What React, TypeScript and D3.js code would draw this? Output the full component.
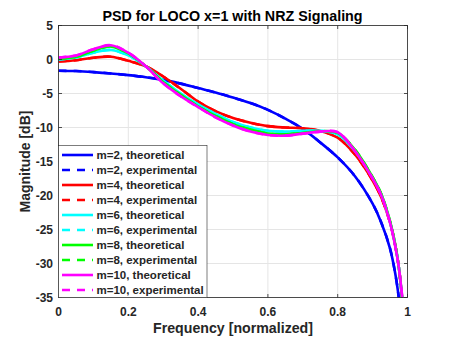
import React from "react";
import * as d3 from "d3";

const freq = [0, 0.05, 0.1, 0.15, 0.2, 0.25, 0.3, 0.35, 0.4, 0.45, 0.5, 0.55, 0.6, 0.65, 0.7, 0.75, 0.8, 0.85, 0.9, 0.925, 0.95, 0.965, 0.975, 0.985, 0.99];

const m2 = [-1.65, -1.7, -1.85, -2.05, -2.3, -2.6, -3.0, -3.55, -4.2, -4.85, -5.6, -6.4, -7.4, -8.7, -10.2, -12.2, -14.4, -17.2, -21.2, -24.0, -27.8, -31.5, -35, -40, -44];
const m4 = [-0.3, -0.1, 0.25, 0.4, -0.2, -1.0, -2.5, -4.3, -6.2, -7.6, -8.6, -9.3, -9.8, -10.0, -10.1, -10.5, -11.5, -14.0, -17.8, -20.3, -24.0, -27.3, -30.5, -35.5, -39];
const m6 = [0.0, 0.3, 1.0, 1.4, 0.6, -1.0, -3.1, -5.0, -6.6, -8.0, -9.2, -10.0, -10.5, -10.6, -10.5, -10.5, -11.0, -13.5, -17.4, -19.9, -23.9, -27.3, -30.5, -35.4, -38.6];
const m8 = [0.1, 0.4, 1.3, 1.9, 0.9, -1.0, -3.3, -5.2, -6.9, -8.3, -9.5, -10.3, -10.9, -11.0, -10.8, -10.55, -10.8, -13.3, -17.3, -19.8, -23.8, -27.3, -30.5, -35.3, -38.5];
const m10 = [0.3, 0.6, 1.5, 2.1, 1.0, -1.0, -3.5, -5.4, -7.0, -8.5, -9.7, -10.6, -11.1, -11.2, -10.9, -10.6, -10.7, -13.5, -17.5, -20.0, -24.0, -27.5, -30.5, -35, -38];

const seriesNames = ["m=2", "m=4", "m=6", "m=8", "m=10"];
const seriesColors = ["#0000ff", "#ff0000", "#00ffff", "#00ff00", "#ff00ff"];
const theoretical = [m2, m4, m6, m8, m10];
const experimental = [m2, m4, m6, m8, m10];

const xTicks = [0, 0.2, 0.4, 0.6, 0.8, 1];
const yTicks = [5, 0, -5, -10, -15, -20, -25, -30, -35];

const title = "PSD for LOCO x=1 with NRZ Signaling";
const xLabel = "Frequency [normalized]";
const yLabel = "Magnitude [dB]";

export default function App() {
  const W = 450, H = 338;
  const L = 58.5, R = 407.5, T = 25.5, B = 297.5;
  const x = d3.scaleLinear().domain([0, 1]).range([L, R]);
  const y = d3.scaleLinear().domain([-35, 5]).range([B, T]);
  const line = d3
    .line<number>()
    .x((_, i) => x(freq[i]))
    .y((d) => y(d))
    .curve(d3.curveCatmullRom.alpha(0.5));
  const font = "'Liberation Sans', Arial, sans-serif";
  const txt = "#262626";

  const legendItems: { label: string; color: string; dashed: boolean }[] = [];
  seriesNames.forEach((n, i) => {
    legendItems.push({ label: `${n}, theoretical`, color: seriesColors[i], dashed: false });
    legendItems.push({ label: `${n}, experimental`, color: seriesColors[i], dashed: true });
  });
  const lgX = L, lgY = 145.5, lgW = 148.5, lgH = B - 145.5;
  const rowH = 15;

  return (
    <svg width={W} height={H} style={{ position: "absolute", left: 0, top: 0, background: "#fff" }} fontFamily={font}>
      <defs>
        <clipPath id="plotclip">
          <rect x={L} y={T} width={R - L} height={B - T} />
        </clipPath>
      </defs>
      <rect x={0} y={0} width={W} height={H} fill="#fff" />
      {/* grid */}
      {xTicks.map((t) => (
        <line key={"gx" + t} x1={x(t)} x2={x(t)} y1={T} y2={B} stroke="#e5e5e5" strokeWidth={1} />
      ))}
      {yTicks.map((t) => (
        <line key={"gy" + t} x1={L} x2={R} y1={y(t)} y2={y(t)} stroke="#e5e5e5" strokeWidth={1} />
      ))}
      {/* lines */}
      <g clipPath="url(#plotclip)">
        {theoretical.map((s, i) => (
          <g key={"s" + i}>
            <path d={line(s) || ""} fill="none" stroke={seriesColors[i]} strokeWidth={2.6} />
            <path d={line(experimental[i]) || ""} fill="none" stroke={seriesColors[i]} strokeWidth={2.6} strokeDasharray="8,7" />
          </g>
        ))}
      </g>
      {/* axes box */}
      <rect x={L} y={T} width={R - L} height={B - T} fill="none" stroke="#262626" strokeWidth={0.8} />
      {xTicks.map((t) => (
        <g key={"tx" + t}>
          <line x1={x(t)} x2={x(t)} y1={B} y2={B - 3.5} stroke="#262626" strokeWidth={0.8} />
          <line x1={x(t)} x2={x(t)} y1={T} y2={T + 3.5} stroke="#262626" strokeWidth={0.8} />
          <text x={x(t)} y={B + 18.5} textAnchor="middle" fontSize={12} fontWeight="bold" fill={txt}>
            {String(t)}
          </text>
        </g>
      ))}
      {yTicks.map((t) => (
        <g key={"ty" + t}>
          <line x1={L} x2={L + 3.5} y1={y(t)} y2={y(t)} stroke="#262626" strokeWidth={0.8} />
          <line x1={R} x2={R - 3.5} y1={y(t)} y2={y(t)} stroke="#262626" strokeWidth={0.8} />
          <text x={L - 5.5} y={y(t) + 4.3} textAnchor="end" fontSize={12} fontWeight="bold" fill={txt}>
            {String(t)}
          </text>
        </g>
      ))}
      {/* legend */}
      <rect x={lgX} y={lgY} width={lgW} height={lgH} fill="#fff" stroke="#262626" strokeWidth={0.6} />
      {legendItems.map((it, i) => {
        const cy = lgY + 9.5 + i * rowH;
        return (
          <g key={"lg" + i}>
            <line x1={lgX + 3.5} x2={lgX + 34.5} y1={cy} y2={cy} stroke={it.color} strokeWidth={2.6} strokeDasharray={it.dashed ? "8,7" : undefined} />
            <text x={lgX + 38} y={cy + 4.2} fontSize={11.5} fontWeight="bold" fill={txt}>
              {it.label}
            </text>
          </g>
        );
      })}
      {/* labels */}
      <text x={(L + R) / 2 - 0.5} y={21} textAnchor="middle" fontSize={14.3} fontWeight="bold" fill="#000">
        {title}
      </text>
      <text x={(L + R) / 2} y={333} textAnchor="middle" fontSize={14.2} fontWeight="bold" fill={txt}>
        {xLabel}
      </text>
      <text transform={`translate(${30},${(T + B) / 2}) rotate(-90)`} textAnchor="middle" fontSize={14} fontWeight="bold" fill={txt}>
        {yLabel}
      </text>
    </svg>
  );
}
